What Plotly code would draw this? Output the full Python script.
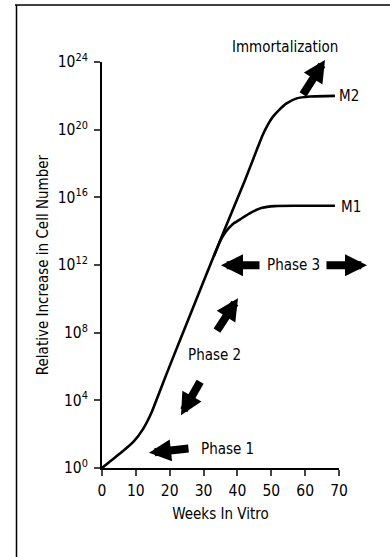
import plotly.graph_objects as go

# ---- data (weeks, log10 of relative increase) ----
weeks_m2 = [0, 5.3, 9.25, 12.2, 14.7, 16.6, 19.1, 23, 30.1, 36, 42.2, 45.7, 47.5, 49, 50.5, 52.5, 54.5, 57.5, 61.4, 68.8]
log_m2 = [0, 0.85, 1.54, 2.33, 3.31, 4.29, 5.58, 7.54, 11.08, 14.0, 17.0, 18.8, 19.7, 20.3, 20.77, 21.2, 21.55, 21.85, 21.96, 22.0]

weeks_m1 = [33, 35, 36.5, 38.5, 40.8, 44, 47.3, 51, 58, 68.8]
log_m1 = [12.5, 13.45, 13.95, 14.4, 14.7, 15.1, 15.38, 15.48, 15.5, 15.5]

x_ticks = [0, 10, 20, 30, 40, 50, 60, 70]
y_exps = [0, 4, 8, 12, 16, 20, 24]
y_ticktext = ["10<sup>%d</sup>" % e for e in y_exps]

FONT = "DejaVu Sans Condensed, Liberation Sans, Arial, sans-serif"
W, H = 390, 557
L, R, T, B = 102, 339, 62, 467.7  # plot area in pixels


def px(X):
    return (X - L) / (R - L)


def py(Y):
    return (B - Y) / (B - T)


fig = go.Figure()
fig.add_trace(go.Scatter(x=weeks_m2, y=[10.0 ** v for v in log_m2], mode="lines",
                         line=dict(color="black", width=2.6, shape="spline", smoothing=0.6),
                         hoverinfo="skip", showlegend=False))
fig.add_trace(go.Scatter(x=weeks_m1, y=[10.0 ** v for v in log_m1], mode="lines",
                         line=dict(color="black", width=2.6, shape="spline", smoothing=0.6),
                         hoverinfo="skip", showlegend=False))

annotations = []
TS = 15


def text(s, X, Y, xanchor="center"):
    annotations.append(dict(text=s, x=px(X), y=py(Y), xref="paper", yref="paper",
                            showarrow=False, xanchor=xanchor, yanchor="middle",
                            font=dict(family=FONT, size=TS, color="black")))


def arrow(tipX, tipY, tailX, tailY):
    annotations.append(dict(text="", x=px(tipX), y=py(tipY), xref="paper", yref="paper",
                            ax=tailX - tipX, ay=tailY - tipY, showarrow=True,
                            arrowhead=2, arrowsize=0.55, arrowwidth=8,
                            arrowcolor="black", standoff=0, startstandoff=0))


text("Immortalization", 284.5, 46.7)
arrow(325, 60, 302, 96)
text("M2", 337, 95.5, "left")
text("M1", 339, 206.5, "left")
text("Phase 3", 293, 265)
arrow(221, 265, 261, 265)
arrow(367, 265, 325, 265)
arrow(238, 298, 216, 332)
text("Phase 2", 214, 355)
arrow(181, 415, 201, 380)
arrow(149, 452.5, 190, 448)
text("Phase 1", 227, 449)

shapes = [
    dict(type="line", xref="paper", yref="paper", x0=px(15), x1=px(392), y0=py(5), y1=py(5),
         line=dict(color="black", width=1.5)),
    dict(type="line", xref="paper", yref="paper", x0=px(16.5), x1=px(16.5), y0=py(5), y1=py(560),
         line=dict(color="black", width=1.5)),
]

fig.update_layout(
    width=W, height=H,
    margin=dict(l=L, r=W - R, t=T, b=H - B, pad=0),
    paper_bgcolor="white", plot_bgcolor="white",
    font=dict(family=FONT, size=15, color="black"),
    annotations=annotations, shapes=shapes,
    xaxis=dict(range=[0, 70], tickvals=x_ticks, ticks="outside", ticklen=6, tickwidth=2,
               showline=True, linecolor="black", linewidth=2, showgrid=False, zeroline=False,
               tickfont=dict(family=FONT, size=15.5), ticklabelstandoff=1,
               title=dict(text="Weeks In Vitro", font=dict(family=FONT, size=TS), standoff=10)),
    yaxis=dict(type="log", range=[0, 24], tickvals=[10.0 ** e for e in y_exps], ticktext=y_ticktext,
               ticks="outside", ticklen=6, tickwidth=2,
               showline=True, linecolor="black", linewidth=2, showgrid=False, zeroline=False,
               tickfont=dict(family=FONT, size=15.5), ticklabelstandoff=3,
               title=dict(text="Relative Increase in Cell Number", font=dict(family=FONT, size=TS),
                          standoff=5)),
)

fig.write_html("out.html", config={"displayModeBar": False},
               post_script="document.body.style.margin='0';document.body.style.padding='0';")
